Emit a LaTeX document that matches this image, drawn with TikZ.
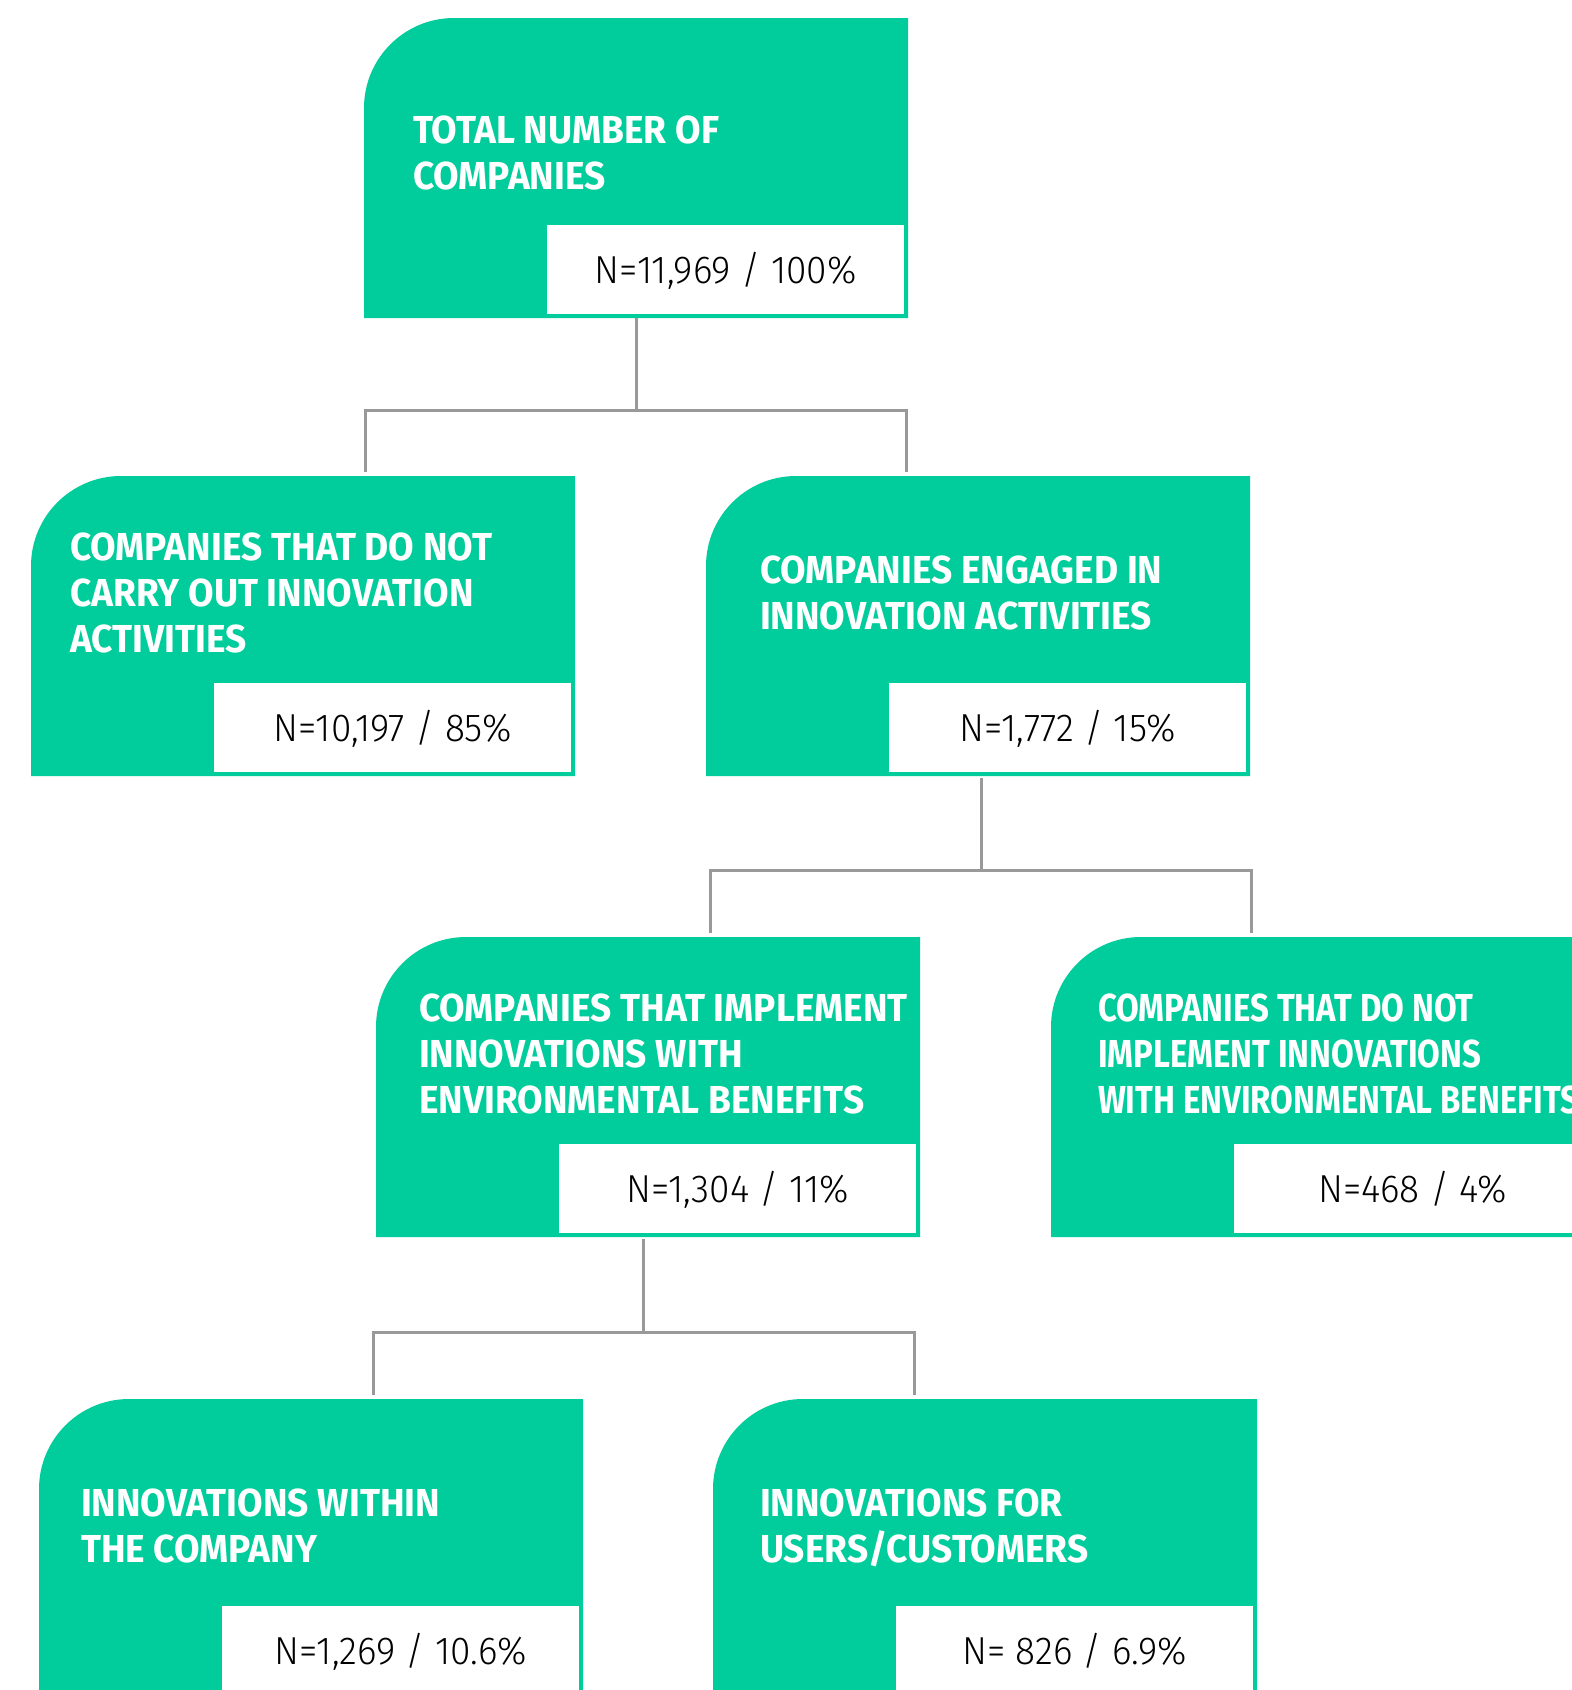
\documentclass[tikz,border=0pt]{standalone}
\usepackage{fontspec}
\usetikzlibrary{calc}
\newfontfamily\titlefont[FakeStretch=0.95]{Fira Sans}
\newfontfamily\titlefontc[FakeStretch=0.845]{Fira Sans}
\newfontfamily\numfont[FakeStretch=0.95]{Fira Sans Light}
\definecolor{gr}{RGB}{0,205,155}
\definecolor{lg}{RGB}{153,153,153}
\tikzset{
  boxn/.style={minimum width=544pt, minimum height=300pt, inner sep=0pt, outer sep=0pt},
  numbox/.style={fill=white, minimum width=357pt, minimum height=89pt, inner sep=0pt, outer sep=0pt,
     text height=27pt, text depth=0pt, font=\numfont\fontsize{39}{46}\selectfont, text=black},
  titlen/.style={inner sep=0pt, outer sep=0pt, align=left, text=white,
     font=\titlefont\bfseries\fontsize{39}{46}\selectfont},
  conn/.style={draw=lg, line width=3pt}
}
\newcommand\gbox[7]{%
  \node[boxn] (#1) at (#2+272,#3+150) {};
  \fill[gr] (#1.south west) [rounded corners=90pt] -- (#1.north west) [sharp corners] -- (#1.north east) -- (#1.south east) -- cycle;
  \node[numbox, anchor=south east] (#1n) at ($(#1.south east)+(-4,-4)$) {#5};
  \node[titlen, anchor=north west] (#1t) at ($(#1.north west)+(#6,#7-27)$) {\rule{0pt}{27pt}#4};
}
\begin{document}
\begin{tikzpicture}[x=1pt,y=-1pt]
\useasboundingbox (0,0) rectangle (1572,1690);
\clip (0,0) rectangle (1572,1690);
\fill[white] (0,0) rectangle (1572,1690);
\gbox{b1}{364}{18}{TOTAL NUMBER OF\\COMPANIES}{N=11,969 / 100\%}{49}{125}
\gbox{b2}{31}{476}{COMPANIES THAT DO NOT\\CARRY OUT INNOVATION\\ACTIVITIES}{N=10,197 / 85\%}{39}{84}
\gbox{b3}{706}{476}{COMPANIES ENGAGED IN\\INNOVATION ACTIVITIES}{N=1,772 / 15\%}{54}{107}
\gbox{b4}{376}{937}{COMPANIES THAT IMPLEMENT\\INNOVATIONS WITH\\ENVIRONMENTAL BENEFITS}{N=1,304 / 11\%}{43}{84}
\gbox{b5}{1051}{937}{\titlefontc\bfseries COMPANIES THAT DO NOT\\\titlefontc\bfseries IMPLEMENT INNOVATIONS\\\titlefontc\bfseries WITH ENVIRONMENTAL BENEFITS}{N=468 / 4\%}{47}{84}
\gbox{b6}{39}{1399}{INNOVATIONS WITHIN\\THE COMPANY}{N=1,269 / 10.6\%}{42}{117}
\gbox{b7}{713}{1399}{INNOVATIONS FOR\\USERS/CUSTOMERS}{N= 826 / 6.9\%}{47}{117}
% connectors
\coordinate (j1) at ($(b1.south)+(0,92)$);
\draw[conn] (b1.south) -- (j1);
\draw[conn] ($(b1.south west |- b2.north)+(1.5,-4)$) |- (j1) -| ($(b1.south east |- b2.north)+(-1.5,-4)$);
\coordinate (j2) at ($(b3.south)+(3,94)$);
\draw[conn] ($(b3.south)+(3,2)$) -- (j2);
\draw[conn] ($(b3.south west |- b4.north)+(4.5,-4)$) |- (j2) -| ($(b3.south east |- b4.north)+(1.5,-4)$);
\coordinate (j3) at ($(b4.south)+(-5,95)$);
\draw[conn] ($(b4.south)+(-5,2)$) -- (j3);
\draw[conn] ($(b4.south west |- b6.north)+(-3,-4)$) |- (j3) -| ($(b4.south east |- b6.north)+(-6,-4)$);
\end{tikzpicture}
\end{document}
